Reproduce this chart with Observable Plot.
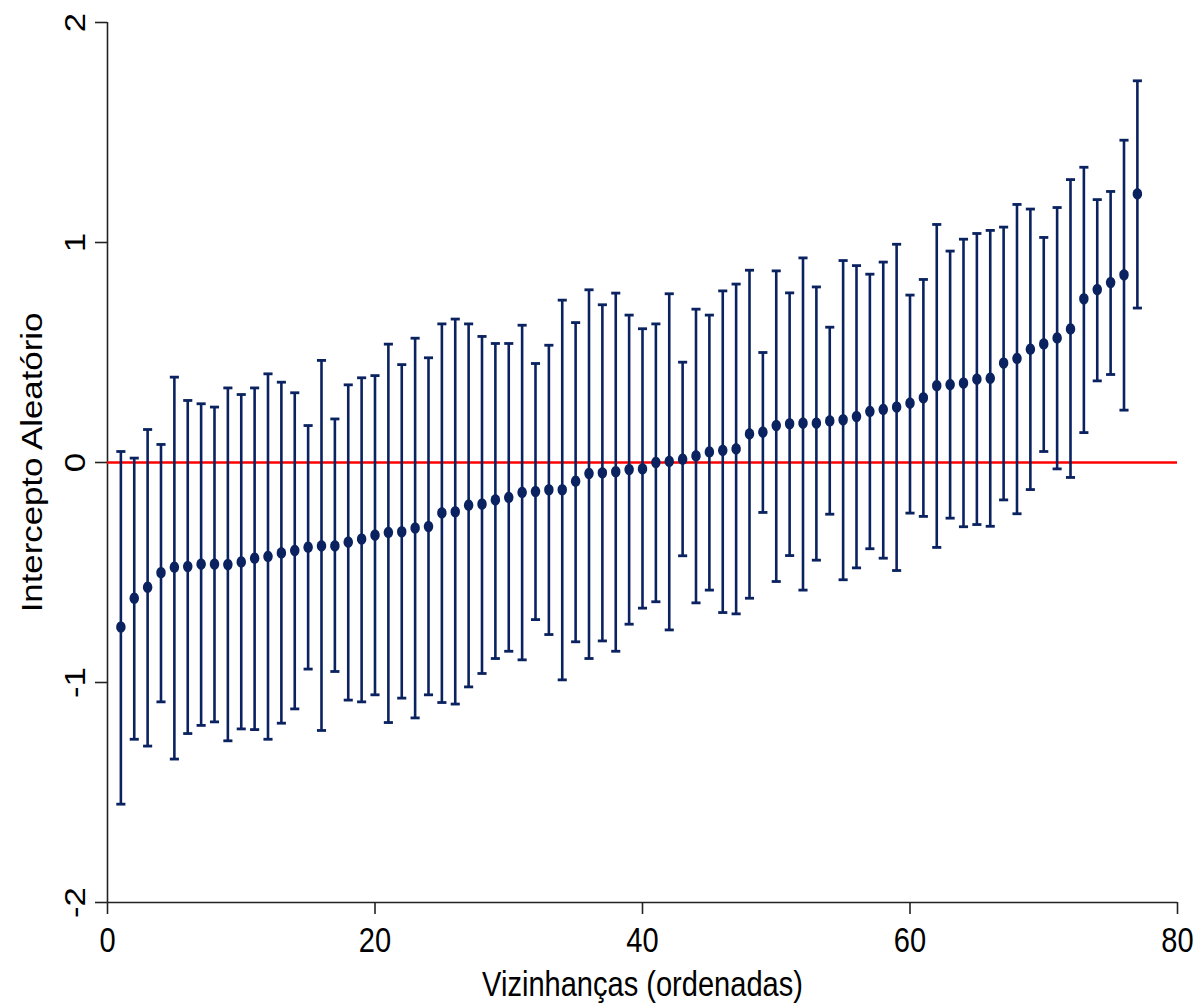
<!DOCTYPE html>
<html>
<head>
<meta charset="utf-8">
<script src="https://cdn.jsdelivr.net/npm/d3@7"></script>
<script src="https://cdn.jsdelivr.net/npm/@observablehq/plot@0.6"></script>
<style>
  html, body { margin: 0; padding: 0; background: #fff; }
  #chart svg { display: block; }
</style>
</head>
<body>
<div id="chart"></div>
<script>
// Neighbourhood rank (ordered)
const rank = d3.range(1, 78);
// Random intercept estimates
const estimate = [
  -0.748, -0.617, -0.567, -0.501, -0.476, -0.473, -0.462, -0.462, -0.464, -0.452,
  -0.435, -0.427, -0.411, -0.400, -0.385, -0.379, -0.379, -0.362, -0.348, -0.330,
  -0.318, -0.315, -0.298, -0.291, -0.229, -0.224, -0.194, -0.189, -0.170, -0.159,
  -0.136, -0.132, -0.124, -0.124, -0.085, -0.050, -0.047, -0.042, -0.032, -0.029,
   0.000,  0.005,  0.015,  0.030,  0.048,  0.055,  0.062,  0.130,  0.138,  0.168,
   0.176,  0.179,  0.179,  0.189,  0.194,  0.209,  0.232,  0.241,  0.252,  0.270,
   0.294,  0.349,  0.354,  0.361,  0.379,  0.383,  0.452,  0.473,  0.515,  0.539,
   0.566,  0.607,  0.744,  0.786,  0.818,  0.853,  1.221
];
// Lower bounds of the intervals
const lower = [
  -1.553, -1.258, -1.289, -1.088, -1.348, -1.232, -1.195, -1.179, -1.265, -1.211,
  -1.214, -1.258, -1.185, -1.120, -0.939, -1.218, -0.950, -1.080, -1.088, -1.056,
  -1.182, -1.071, -1.161, -1.056, -1.091, -1.098, -1.020, -0.959, -0.891, -0.858,
  -0.897, -0.714, -0.782, -0.988, -0.815, -0.891, -0.811, -0.858, -0.735, -0.662,
  -0.633, -0.761, -0.424, -0.638, -0.580, -0.682, -0.688, -0.617, -0.227, -0.541,
  -0.423, -0.580, -0.444, -0.235, -0.533, -0.479, -0.392, -0.435, -0.491, -0.230,
  -0.245, -0.386, -0.253, -0.292, -0.282, -0.290, -0.170, -0.233, -0.123,  0.050,
  -0.029, -0.068,  0.136,  0.371,  0.400,  0.238,  0.702
];
// Upper bounds of the intervals
const upper = [
   0.050,  0.020,  0.150,  0.082,  0.388,  0.282,  0.267,  0.252,  0.339,  0.309,
   0.339,  0.403,  0.365,  0.317,  0.168,  0.464,  0.198,  0.353,  0.385,  0.395,
   0.538,  0.445,  0.565,  0.476,  0.630,  0.652,  0.630,  0.573,  0.541,  0.541,
   0.624,  0.450,  0.533,  0.738,  0.636,  0.785,  0.717,  0.770,  0.670,  0.608,
   0.630,  0.767,  0.456,  0.697,  0.670,  0.780,  0.811,  0.874,  0.500,  0.871,
   0.771,  0.930,  0.798,  0.615,  0.918,  0.895,  0.856,  0.911,  0.992,  0.761,
   0.832,  1.082,  0.961,  1.015,  1.041,  1.055,  1.070,  1.173,  1.152,  1.023,
   1.159,  1.286,  1.342,  1.195,  1.232,  1.465,  1.735
];
const xTicks = [0, 20, 40, 60, 80];
const yTicks = [-2, -1, 0, 1, 2];
const xTitle = "Vizinhanças (ordenadas)";
const yTitle = "Intercepto Aleatório";

const data = rank.map((r, i) => ({rank: r, est: estimate[i], lo: lower[i], hi: upper[i]}));

const navy = "#0a2260";
const font = "'Liberation Sans', Arial, sans-serif";
const capHalf = 0.34;

// slightly tall ellipse, like the stretched original
const ellipseSymbol = {
  draw(context) {
    const rx = 4.7, ry = 5.7, n = 28;
    for (let k = 0; k <= n; ++k) {
      const a = (2 * Math.PI * k) / n;
      const px = rx * Math.cos(a), py = ry * Math.sin(a);
      if (k === 0) context.moveTo(px, py); else context.lineTo(px, py);
    }
    context.closePath();
  }
};

const chart = Plot.plot({
  width: 1193,
  height: 1004,
  marginLeft: 107,
  marginRight: 16,
  marginTop: 22,
  marginBottom: 102,
  style: {fontFamily: font, fontSize: "29px", color: "#000", background: "#fff", overflow: "visible"},
  x: {domain: [0, 80]},
  y: {domain: [-2, 2]},
  marks: [
    // axes lines
    Plot.ruleY([-2], {x1: 0, x2: 80, stroke: "#222", strokeWidth: 1.6}),
    Plot.ruleX([0], {y1: -2, y2: 2, stroke: "#222", strokeWidth: 1.6}),
    Plot.axisX({ticks: xTicks, tickSize: 12, tickPadding: 13, tickFormat: d => String(d), fontSize: 35, stroke: "#222", strokeWidth: 1.6, label: null}),
    Plot.axisY({ticks: yTicks, tickSize: 12, tickPadding: 11, tickRotate: -90, tickFormat: d => String(d), fontSize: 29, stroke: "#222", strokeWidth: 1.6, label: null}),
    // reference line
    Plot.ruleY([0], {x1: 0, x2: 80, stroke: "#ff0000", strokeWidth: 2.6}),
    // error bars
    Plot.ruleX(data, {x: "rank", y1: "lo", y2: "hi", stroke: navy, strokeWidth: 2.6}),
    Plot.link(data, {x1: d => d.rank - capHalf, x2: d => d.rank + capHalf, y1: "hi", y2: "hi", stroke: navy, strokeWidth: 2.8}),
    Plot.link(data, {x1: d => d.rank - capHalf, x2: d => d.rank + capHalf, y1: "lo", y2: "lo", stroke: navy, strokeWidth: 2.8}),
    // estimates
    Plot.dot(data, {x: "rank", y: "est", symbol: ellipseSymbol, fill: navy, stroke: "none"}),
    // axis titles
    Plot.text([xTitle], {frameAnchor: "bottom", dy: 93, text: d => d, lineAnchor: "bottom", textAnchor: "middle", fontSize: 35, fill: "#000"}),
    Plot.text([yTitle], {frameAnchor: "left", dx: -66, text: d => d, rotate: -90, lineAnchor: "bottom", textAnchor: "middle", fontSize: 29, fill: "#000"})
  ]
});

// The original picture is stretched vertically relative to horizontally:
// vertical texts are stretched along their length, horizontal texts are condensed.
d3.select(chart).selectAll("text").each(function () {
  const t = this.getAttribute("transform");
  if (t && t.includes("rotate(-90)")) {
    this.setAttribute("transform", t + " scale(1.2,1)");
  } else if (t) {
    this.setAttribute("transform", t + " scale(0.83,1)");
  } else {
    const x = +(this.getAttribute("x") || 0), y = +(this.getAttribute("y") || 0);
    this.setAttribute("transform", `translate(${x},${y}) scale(0.83,1) translate(${-x},${-y})`);
  }
});

document.getElementById("chart").appendChild(chart);
</script>
</body>
</html>
